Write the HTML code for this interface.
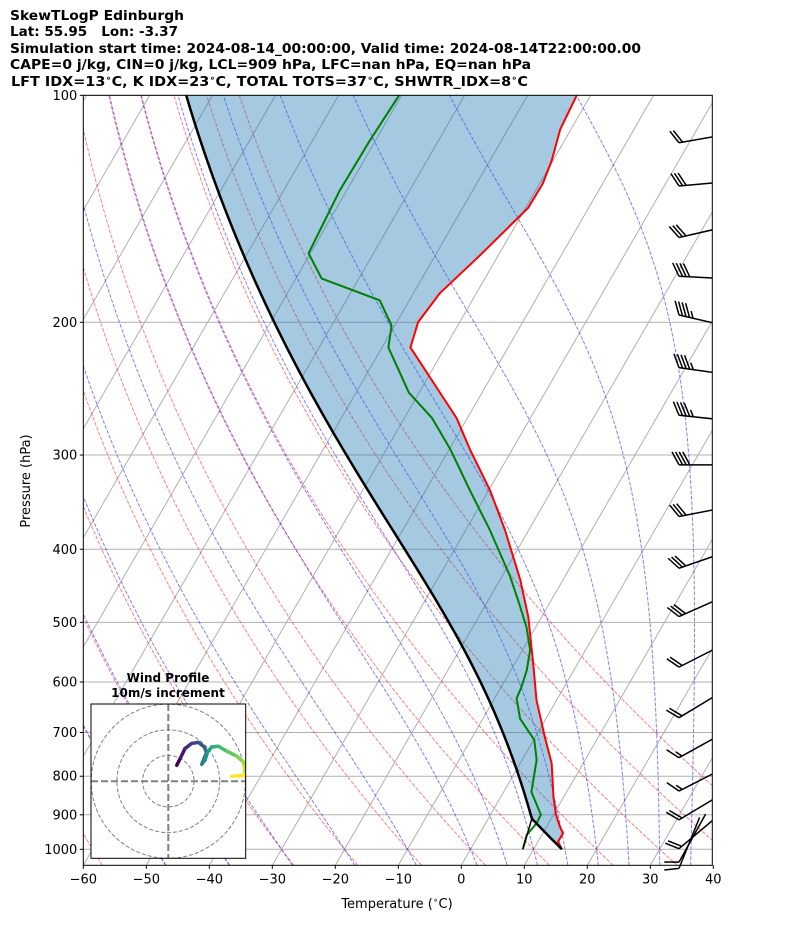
<!DOCTYPE html>
<html><head><meta charset="utf-8"><title>SkewT Edinburgh</title>
<style>html,body{margin:0;padding:0;background:#fff}svg{display:block}text{font-family:"DejaVu Sans","Liberation Sans",sans-serif}</style>
</head><body>
<svg id="chart" width="794" height="937" viewBox="0 0 794 937" xmlns="http://www.w3.org/2000/svg">
<defs>
<clipPath id="plotClip"><rect x="83.3" y="95.3" width="629" height="770"/></clipPath>
<clipPath id="barbClip"><rect x="83.3" y="0" width="629" height="900"/></clipPath>
<clipPath id="hodoClip"><rect x="91" y="704" width="154.7" height="154.3"/></clipPath>
</defs>
<g font-weight="bold" font-size="13">
<text x="10" y="20" textLength="174" lengthAdjust="spacingAndGlyphs">SkewTLogP Edinburgh</text>
<text x="10" y="36" textLength="168" lengthAdjust="spacingAndGlyphs" xml:space="preserve">Lat: 55.95   Lon: -3.37</text>
<text x="10" y="53" textLength="631" lengthAdjust="spacingAndGlyphs">Simulation start time: 2024-08-14_00:00:00, Valid time: 2024-08-14T22:00:00.00</text>
<text x="10" y="69" textLength="521" lengthAdjust="spacingAndGlyphs">CAPE=0 j/kg, CIN=0 j/kg, LCL=909 hPa, LFC=nan hPa, EQ=nan hPa</text>
<text x="11" y="86" textLength="517" lengthAdjust="spacingAndGlyphs">LFT IDX=13<tspan font-size="9" dy="-5">∘</tspan><tspan dy="5">C, K IDX=23</tspan><tspan font-size="9" dy="-5">∘</tspan><tspan dy="5">C, TOTAL TOTS=37</tspan><tspan font-size="9" dy="-5">∘</tspan><tspan dy="5">C, SHWTR_IDX=8</tspan><tspan font-size="9" dy="-5">∘</tspan><tspan dy="5">C</tspan></text>
</g>
<rect x="83.3" y="95.3" width="629" height="770" fill="#fff"/>
<g id="grid" clip-path="url(#plotClip)"></g>
<g id="adiabats" clip-path="url(#plotClip)"></g>
<g id="series" clip-path="url(#plotClip)"></g>
<g id="barbs" clip-path="url(#barbClip)"></g>
<rect x="83.3" y="95.3" width="629" height="770" fill="none" stroke="#000" stroke-width="1"/>
<g id="axes" font-size="13"></g>
<text x="397" y="908" text-anchor="middle" font-size="13">Temperature (<tspan font-size="9" dy="-5">∘</tspan><tspan dy="5">C)</tspan></text>
<text x="0" y="0" transform="translate(30,481) rotate(-90)" text-anchor="middle" font-size="13">Pressure (hPa)</text>
<g id="hodo">
<text x="168" y="682" text-anchor="middle" font-size="12" font-weight="bold">Wind Profile</text>
<text x="168" y="697" text-anchor="middle" font-size="12" font-weight="bold">10m/s increment</text>
<rect x="91" y="704" width="154.7" height="154.3" fill="#fff"/>
<g id="hodoInner" clip-path="url(#hodoClip)"></g>
<rect x="91" y="704" width="154.7" height="154.3" fill="none" stroke="#000" stroke-width="1"/>
</g>
</svg>
<script>
// ---- data ----
const presT=[1000,977,952,933,900,853,769,713,634,573,492,439,377,334,295,268,216,200,183,163,141,131,122,111,100];
const tempT=[14.5,13.2,13.2,12.1,10.4,8.4,5,1.7,-3.2,-6.7,-12.1,-16.8,-23.8,-29.8,-36.7,-41.7,-55.5,-56.6,-55.8,-52.9,-49.6,-49.5,-50.2,-51.7,-52.2];
const presD=[1000,957,924,900,839,761,716,691,671,631,608,578,544,507,467,433,377,334,295,268,248,231,216,202,187,175,162,134,115,100];
const dewD=[8.3,7.6,8.1,8,4.4,2.3,0.1,-2.2,-4.1,-6.5,-6.8,-7.5,-8.8,-11.5,-15.3,-18.9,-26.2,-33,-39.8,-45.6,-51.6,-55.4,-59,-60.5,-64.7,-75.9,-80.3,-81.1,-80.9,-80.4];
const barbP=[115.6,131.9,154.4,173.8,195.6,229.7,265.7,309.1,361.9,423.9,491.3,573.3,669,756,837,914,998,1040,1060];
const barbSpd=[20,30,30,40,45,45,45,40,30,30,30,20,20,15,15,20,20,10,10];
const barbDir=[260,265,257,273,283,278,276,270,259,251,246,243,239,241,243,239,230,209,202];
const hodoU=[3.3,4.6,6.5,9.1,11.7,14,14.9,13,14.3,15.3,16.9,19.5,22.7,26.6,29.2,29.6,29.8,24.7];
const hodoV=[6.2,8.8,12.7,14.7,15.1,13.3,11.2,6.6,8.2,11.4,13.3,13.6,11.7,9.8,7.5,5.6,2.3,1.9];
const pTicks=[100,200,300,400,500,600,700,800,900,1000];
const tTicks=[-60,-50,-40,-30,-20,-10,0,10,20,30,40];
const dryT0=[-60,-50,-40,-30,-20,-10,0,10,20,30,40,50];
const moistT0=[-50,-40,-30,-20,-10,0,5,10,15,20,25,30,35];

// ---- scales ----
const X0=83.3,X1=712.3,YT=95.3,YB=865.3;
function yP(p){return YT+754*Math.log10(p/100);}
function xT(T,p){return X0+(T+60)*6.3+0.577*(YB-yP(p));}
const NS='http://www.w3.org/2000/svg';
function mk(tag,attrs,parent){const e=document.createElementNS(NS,tag);for(const k in attrs)e.setAttribute(k,attrs[k]);parent.appendChild(e);return e;}
function pathD(pts){return pts.map((q,i)=>(i?'L':'M')+q[0].toFixed(2)+','+q[1].toFixed(2)).join('');}

// thermodynamics
const Rd=287.04,cp=1005.7,Lv=2.501e6,eps=0.622;
function dTdp(p,T){const tc=T-273.15;const es=6.112*Math.exp(17.67*tc/(tc+243.5));const rs=eps*es/(p-es);
 return (Rd*T+Lv*rs)/(cp+Lv*Lv*rs*eps/(Rd*T*T))/p;}
function moist(T0K,p0,p1){let T=T0K,p=p0;const n=Math.max(4,Math.ceil(Math.abs(p1-p0)/4));const h=(p1-p0)/n;
 for(let i=0;i<n;i++){const k1=dTdp(p,T),k2=dTdp(p+h/2,T+h/2*k1),k3=dTdp(p+h/2,T+h/2*k2),k4=dTdp(p+h,T+h*k3);T+=h/6*(k1+2*k2+2*k3+k4);p+=h;}return T;}
const levels=[];for(let i=0;i<=200;i++){levels.push(1050*Math.pow(100/1050,i/200));}

const grid=document.getElementById('grid');
pTicks.forEach(p=>{const l=mk('line',{x1:X0,x2:X1,y1:yP(p),y2:yP(p),stroke:'#b0b0b0','stroke-width':1},grid);

});
for(let T=-170;T<=40;T+=10){const l=mk('line',{x1:xT(T,1050),y1:YB,x2:xT(T,100),y2:YT,stroke:'#b0b0b0','stroke-width':1},grid);

}

const ad=document.getElementById('adiabats');
dryT0.forEach(t0=>{const th=t0+273.15;const pts=levels.map(p=>[xT(th*Math.pow(p/1000,0.2857)-273.15,p),yP(p)]);
const e=mk('path',{d:pathD(pts),fill:'none',stroke:'#ff0000','stroke-opacity':0.5,'stroke-width':1,'stroke-dasharray':'3.7,1.6'},ad);

});
moistT0.forEach(t0=>{const pts=[];let T=t0+273.15,pp=1000;
 const up=levels.filter(p=>p<=1000), dn=levels.filter(p=>p>1000).reverse();
 const down=[];let Td=T,pd=1000;dn.forEach(p=>{Td=moist(Td,pd,p);pd=p;down.push([xT(Td-273.15,p),yP(p)]);});
 down.reverse().forEach(q=>pts.push(q));pts.push([xT(t0,1000),yP(1000)]);
 up.forEach(p=>{T=moist(T,pp,p);pp=p;pts.push([xT(T-273.15,p),yP(p)]);});
 const e=mk('path',{d:pathD(pts),fill:'none',stroke:'#0000ff','stroke-opacity':0.5,'stroke-width':1,'stroke-dasharray':'3.7,1.6'},ad);
 
 });

// parcel
const ser=document.getElementById('series');
const p0=presT[0],T0=tempT[0]+273.15,Td0=dewD[0]+273.15;
const Tlcl=1/(1/(Td0-56)+Math.log(T0/Td0)/800)+56;
const plcl=p0*Math.pow(Tlcl/T0,cp/Rd);
const parcelP=[],parcelT=[];
levels.filter(p=>p<=p0).forEach(p=>{parcelP.push(p);});
parcelP.splice(0,0,p0);
let Tm=Tlcl,pm=plcl;
parcelP.forEach(p=>{if(p>=plcl){parcelT.push(T0*Math.pow(p/p0,Rd/cp));}else{Tm=moist(Tm,pm,p);pm=p;parcelT.push(Tm);}});
function interpT(p){const lp=Math.log(p);for(let i=0;i<presT.length-1;i++){const a=Math.log(presT[i]),b=Math.log(presT[i+1]);if(lp<=a&&lp>=b){const f=(lp-a)/(b-a);return tempT[i]+f*(tempT[i+1]-tempT[i]);}}return tempT[tempT.length-1];}
const fillPts=parcelP.map(p=>[xT(interpT(p),p),yP(p)]).concat(parcelP.map((p,i)=>[xT(parcelT[i]-273.15,p),yP(p)]).reverse());
const fl=mk('path',{d:pathD(fillPts)+'Z',fill:'#1f77b4','fill-opacity':0.4,stroke:'none'},ser);


const tl=mk('path',{d:pathD(presT.map((p,i)=>[xT(tempT[i],p),yP(p)])),fill:'none',stroke:'#ff0000','stroke-width':2,'stroke-linejoin':'round'},ser);


const dl=mk('path',{d:pathD(presD.map((p,i)=>[xT(dewD[i],p),yP(p)])),fill:'none',stroke:'#008000','stroke-width':2,'stroke-linejoin':'round'},ser);


const ml=mk('line',{x1:xT(dewD[0],p0),y1:yP(p0),x2:xT(Tlcl-273.15,plcl),y2:yP(plcl),stroke:'#000','stroke-width':1.5},ser);


const pl=mk('path',{d:pathD(parcelP.map((p,i)=>[xT(parcelT[i]-273.15,p),yP(p)])),fill:'none',stroke:'#000','stroke-width':2.5},ser);



// barbs
const bg=document.getElementById('barbs');
barbP.forEach((p,i)=>{const d=barbDir[i]*Math.PI/180;const sx=-Math.sin(d),sy=Math.cos(d);const nx=sy,ny=-sx;
 const bx=679,by=yP(p);const g=mk('g',{},bg);
 
 
 mk('line',{x1:bx,y1:by,x2:bx+sx*55,y2:by+sy*55,stroke:'#000','stroke-width':1.5},g);
 const full=Math.floor(barbSpd[i]/10),half=(barbSpd[i]%10)>=5?1:0;let k=0;
 for(let j=0;j<full+half;j++){const L=j<full?1:0.5;const ox=bx+sx*3.6*k,oy=by+sy*3.6*k;
  if(full===0&&half===1&&j===0){k++;continue;}
  mk('line',{x1:ox,y1:oy,x2:ox+L*(-7*sx+13*nx),y2:oy+L*(-7*sy+13*ny),stroke:'#000','stroke-width':1.5},g);k++;}
});

// axes ticks
const ax=document.getElementById('axes');
pTicks.forEach(p=>{mk('line',{x1:X0-3.5,x2:X0,y1:yP(p),y2:yP(p),stroke:'#000'},ax);
 const t=mk('text',{x:X0-6,y:yP(p)+4.5,'text-anchor':'end'},ax);t.textContent=p;
 
 });
tTicks.forEach(T=>{const x=xT(T,1050);mk('line',{x1:x,x2:x,y1:YB,y2:YB+3.5,stroke:'#000'},ax);
 const t=mk('text',{x:x,y:YB+18,'text-anchor':'middle'},ax);t.textContent=(T<0?'\u2212':'')+Math.abs(T);
 
 });

// hodograph
const hi=document.getElementById('hodoInner');
const hcx=168.3,hcy=781.2,hs=2.57;
[10,20,30].forEach(r=>{const c=mk('circle',{cx:hcx,cy:hcy,r:r*hs,fill:'none',stroke:'#808080','stroke-width':1,'stroke-dasharray':'4,2'},hi);
 
 });
mk('line',{x1:91,x2:246,y1:hcy,y2:hcy,stroke:'#808080','stroke-width':2,'stroke-dasharray':'7,3'},hi);
mk('line',{x1:hcx,x2:hcx,y1:704,y2:859,stroke:'#808080','stroke-width':2,'stroke-dasharray':'7,3'},hi);
const vir=[[68,1,84],[72,40,120],[62,73,137],[49,104,142],[38,130,142],[31,158,137],[53,183,121],[109,205,89],[180,222,44],[253,231,37]];
function vc(f){const s=f*(vir.length-1);const i=Math.min(vir.length-2,Math.floor(s));const r=s-i;const a=vir[i],b=vir[i+1];
 return 'rgb('+[0,1,2].map(k=>Math.round(a[k]+(b[k]-a[k])*r)).join(',')+')';}
for(let i=0;i<hodoU.length-1;i++){const s=mk('line',{x1:hcx+hodoU[i]*hs,y1:hcy-hodoV[i]*hs,x2:hcx+hodoU[i+1]*hs,y2:hcy-hodoV[i+1]*hs,stroke:vc(i/(hodoU.length-2)),'stroke-width':3.5,'stroke-linecap':'round'},hi);
 
 }
</script>
</body></html>
